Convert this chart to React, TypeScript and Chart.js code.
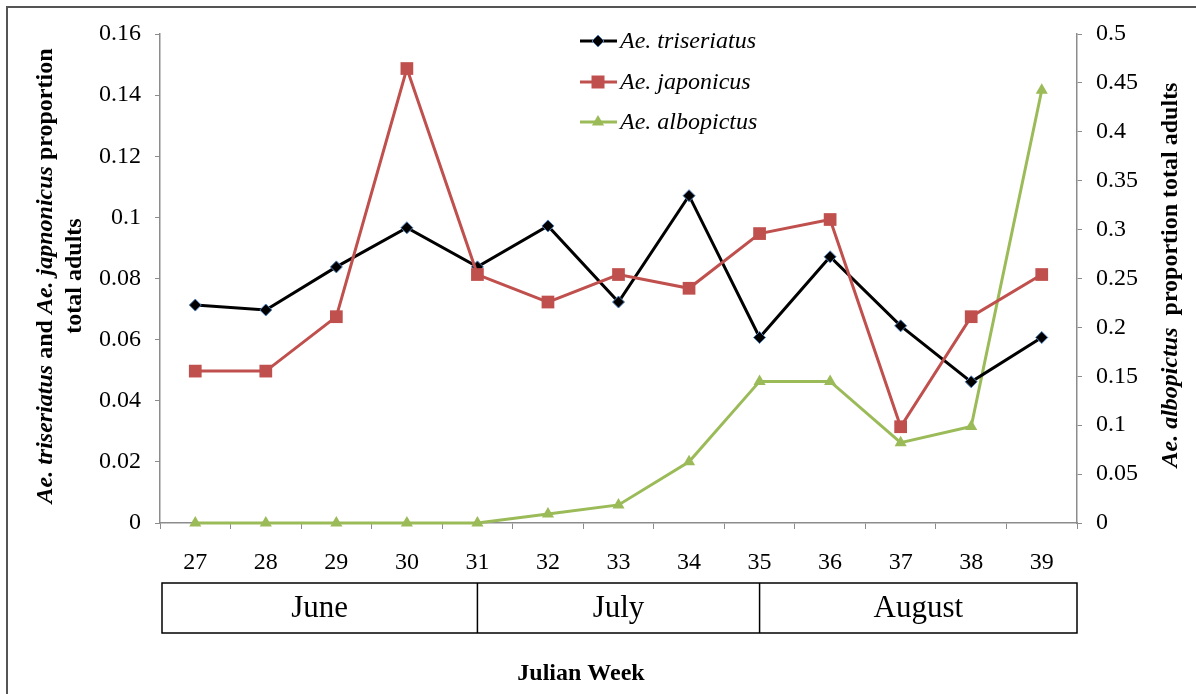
import React, { useEffect, useRef } from 'react';
import { Chart, registerables } from 'chart.js';

Chart.register(...registerables);

const weeks = ['27', '28', '29', '30', '31', '32', '33', '34', '35', '36', '37', '38', '39'];
const triseriatus = [0.0713, 0.0697, 0.0838, 0.0966, 0.0838, 0.0972, 0.0723, 0.1071, 0.0607, 0.0871, 0.0645, 0.0462, 0.0607];
const japonicus = [0.0497, 0.0497, 0.0675, 0.1487, 0.0813, 0.0723, 0.0813, 0.0768, 0.0947, 0.0993, 0.0315, 0.0675, 0.0813];
const albopictus = [0, 0, 0, 0, 0, 0.0092, 0.0185, 0.0626, 0.1448, 0.1448, 0.0821, 0.0986, 0.4425];
const months = ['June', 'July', 'August'];
const monthBreaks = [4, 8]; // indices of weeks where month boxes divide
const seriesNames = ['Ae. triseriatus', 'Ae. japonicus', 'Ae. albopictus'];

const FONT = '"Liberation Serif", "Times New Roman", serif';
const BLACK = '#000000';
const RED = '#C0504D';
const GREEN = '#9BBB59';
const BLUE = '#4F81BD';

function fmt(v: number) {
  return String(Number(Number(v).toFixed(4)));
}

type Seg = { text: string; font: string };

function drawMixed(ctx: CanvasRenderingContext2D, segs: Seg[], cx: number, cy: number, rot: number) {
  ctx.save();
  ctx.translate(cx, cy);
  ctx.rotate(rot);
  ctx.textBaseline = 'middle';
  ctx.textAlign = 'left';
  ctx.fillStyle = '#000';
  let total = 0;
  const widths: number[] = [];
  for (const s of segs) {
    ctx.font = s.font;
    const w = ctx.measureText(s.text).width;
    widths.push(w);
    total += w;
  }
  let x = -total / 2;
  segs.forEach((s, i) => {
    ctx.font = s.font;
    ctx.fillText(s.text, x, 0);
    x += widths[i];
  });
  ctx.restore();
}

function drawMarker(ctx: CanvasRenderingContext2D, kind: string, x: number, y: number) {
  ctx.save();
  ctx.beginPath();
  if (kind === 'diamond') {
    const r = 6;
    ctx.moveTo(x, y - r);
    ctx.lineTo(x + r, y);
    ctx.lineTo(x, y + r);
    ctx.lineTo(x - r, y);
    ctx.closePath();
    ctx.fillStyle = BLACK;
    ctx.fill();
    ctx.strokeStyle = BLUE;
    ctx.lineWidth = 1;
    ctx.stroke();
  } else if (kind === 'square') {
    const s = 6.5;
    ctx.rect(x - s, y - s, 2 * s, 2 * s);
    ctx.fillStyle = RED;
    ctx.fill();
  } else {
    const r = 7;
    ctx.moveTo(x, y - r);
    ctx.lineTo(x + r * 0.87, y + r * 0.5);
    ctx.lineTo(x - r * 0.87, y + r * 0.5);
    ctx.closePath();
    ctx.fillStyle = GREEN;
    ctx.fill();
  }
  ctx.restore();
}

const decorPlugin = {
  id: 'decor',
  afterDraw(chart: any) {
    const ctx: CanvasRenderingContext2D = chart.ctx;
    const area = chart.chartArea;
    const xs = chart.scales.x;

    // outer frame
    ctx.save();
    ctx.strokeStyle = '#555';
    ctx.lineWidth = 2;
    ctx.strokeRect(7, 7, 1300, 800);
    ctx.restore();

    // month boxes
    const top = 583;
    const bottom = 633;
    const edges = [area.left + 2, ...monthBreaks.map((i) => xs.getPixelForValue(i)), area.right];
    ctx.save();
    ctx.strokeStyle = '#000';
    ctx.lineWidth = 1.5;
    ctx.strokeRect(edges[0], top, edges[edges.length - 1] - edges[0], bottom - top);
    for (let i = 1; i < edges.length - 1; i++) {
      ctx.beginPath();
      ctx.moveTo(edges[i], top);
      ctx.lineTo(edges[i], bottom);
      ctx.stroke();
    }
    ctx.fillStyle = '#000';
    ctx.font = '31px ' + FONT;
    ctx.textAlign = 'center';
    ctx.textBaseline = 'middle';
    months.forEach((m, i) => {
      ctx.fillText(m, (edges[i] + edges[i + 1]) / 2, (top + bottom) / 2 + 1);
    });
    ctx.restore();

    // x axis title
    drawMixed(ctx, [{ text: 'Julian Week', font: 'bold 24px ' + FONT }], 581, 674, 0);

    // left title
    const b = 'bold 24px ' + FONT;
    const bi = 'italic bold 24px ' + FONT;
    drawMixed(
      ctx,
      [
        { text: 'Ae. triseriatus', font: bi },
        { text: ' and ', font: b },
        { text: 'Ae. japnonicus', font: bi },
        { text: ' proportion', font: b },
      ],
      46,
      276,
      -Math.PI / 2
    );
    drawMixed(ctx, [{ text: 'total adults', font: b }], 75, 276, -Math.PI / 2);

    // right title
    drawMixed(
      ctx,
      [
        { text: 'Ae. albopictus', font: bi },
        { text: '  proportion total adults', font: b },
      ],
      1171,
      275,
      -Math.PI / 2
    );

    // legend
    const colors = [BLACK, RED, GREEN];
    const kinds = ['diamond', 'square', 'triangle'];
    const rows = [41, 82, 122];
    ctx.save();
    seriesNames.forEach((name, i) => {
      const y = rows[i];
      ctx.strokeStyle = colors[i];
      ctx.lineWidth = 3;
      ctx.beginPath();
      ctx.moveTo(580, y);
      ctx.lineTo(617, y);
      ctx.stroke();
      drawMarker(ctx, kinds[i], 598, y);
      ctx.fillStyle = '#000';
      ctx.font = 'italic 24px ' + FONT;
      ctx.textAlign = 'left';
      ctx.textBaseline = 'middle';
      ctx.fillText(name, 620, y + 1);
    });
    ctx.restore();
  },
};

export default function App() {
  const ref = useRef<HTMLCanvasElement | null>(null);

  useEffect(() => {
    if (!ref.current) return;
    const chart = new Chart(ref.current, {
      type: 'line',
      data: {
        labels: weeks,
        datasets: [
          {
            label: seriesNames[1],
            data: japonicus,
            yAxisID: 'y',
            borderColor: RED,
            backgroundColor: RED,
            borderWidth: 3,
            pointStyle: 'rect',
            pointRadius: 9,
            pointBorderWidth: 0,
            pointBackgroundColor: RED,
            tension: 0,
            clip: false,
          },
          {
            label: seriesNames[0],
            data: triseriatus,
            yAxisID: 'y',
            borderColor: BLACK,
            backgroundColor: BLACK,
            borderWidth: 3,
            pointStyle: 'rectRot',
            pointRadius: 6,
            pointBorderWidth: 1,
            pointBorderColor: BLUE,
            pointBackgroundColor: BLACK,
            tension: 0,
            clip: false,
          },
          {
            label: seriesNames[2],
            data: albopictus,
            yAxisID: 'y1',
            borderColor: GREEN,
            backgroundColor: GREEN,
            borderWidth: 3,
            pointStyle: 'triangle',
            pointRadius: 7,
            pointBorderWidth: 0,
            pointBackgroundColor: GREEN,
            tension: 0,
            clip: false,
          },
        ],
      },
      options: {
        animation: false,
        responsive: true,
        maintainAspectRatio: false,
        layout: { padding: { top: 34, left: 0, right: 0, bottom: 0 } },
        plugins: { legend: { display: false }, tooltip: { enabled: false } },
        scales: {
          x: {
            type: 'category',
            offset: true,
            grid: { display: true, drawOnChartArea: false, drawTicks: true, tickLength: 6, offset: true, color: '#8c8c8c' },
            border: { display: true, color: '#8c8c8c', width: 1.5 },
            ticks: { color: '#000', font: { family: FONT, size: 24 }, padding: 19, maxRotation: 0 },
            afterFit: (s: any) => {
              s.height = 171;
            },
          },
          y: {
            position: 'left',
            min: 0,
            max: 0.16,
            ticks: { stepSize: 0.02, color: '#000', font: { family: FONT, size: 24 }, padding: 14, callback: (v: any) => fmt(v) },
            grid: { display: true, drawOnChartArea: false, drawTicks: true, tickLength: 5, color: '#8c8c8c' },
            border: { display: true, color: '#8c8c8c', width: 1.5 },
            afterFit: (s: any) => {
              s.width = 160;
            },
          },
          y1: {
            position: 'right',
            min: 0,
            max: 0.5,
            ticks: { stepSize: 0.05, color: '#000', font: { family: FONT, size: 24 }, padding: 14, callback: (v: any) => fmt(v) },
            grid: { display: true, drawOnChartArea: false, drawTicks: true, tickLength: 5, color: '#8c8c8c' },
            border: { display: true, color: '#8c8c8c', width: 1.5 },
            afterFit: (s: any) => {
              s.width = 119;
            },
          },
        },
      },
      plugins: [decorPlugin],
    } as any);
    return () => chart.destroy();
  }, []);

  return (
    <div style={{ position: 'fixed', left: 0, top: 0, width: 1196, height: 694, background: '#fff' }}>
      <canvas ref={ref} />
    </div>
  );
}
